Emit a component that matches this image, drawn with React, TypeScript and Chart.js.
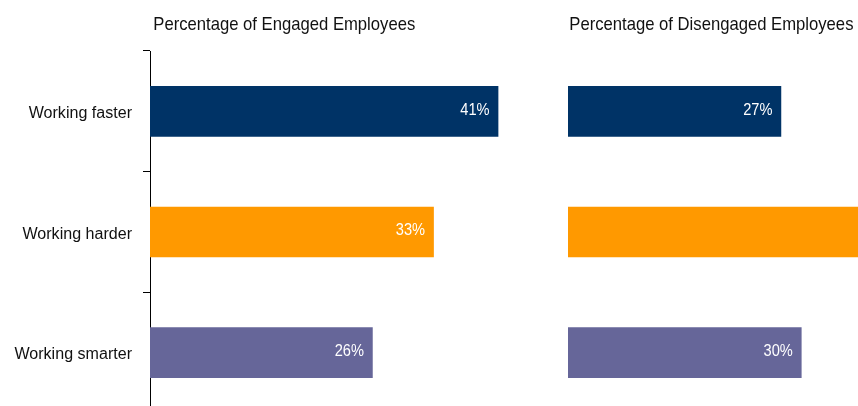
import React, { useEffect, useRef } from 'react';
import { Chart, registerables } from 'chart.js';

Chart.register(...registerables);

const categories = ['Working faster', 'Working harder', 'Working smarter'];
const engagedValues = [41, 33.4, 26.2];
const disengagedValues = [27.2, 42, 29.8];
const barColors = ['#003366', '#FF9900', '#666699'];
const panelTitles = ['Percentage of Engaged Employees', 'Percentage of Disengaged Employees'];
const engagedMax = 45;
const disengagedMax = 51.1;

const FONT = '"Liberation Sans", Arial, sans-serif';
const TEXT_COLOR = '#111111';

function drawText(
  ctx: CanvasRenderingContext2D,
  text: string,
  x: number,
  y: number,
  size: number,
  sx: number,
  align: CanvasTextAlign,
  color: string
) {
  ctx.save();
  ctx.font = `${size}px ${FONT}`;
  ctx.fillStyle = color;
  ctx.textAlign = align;
  ctx.textBaseline = 'alphabetic';
  ctx.translate(x, y);
  ctx.scale(sx, 1);
  ctx.fillText(text, 0, 0);
  ctx.restore();
}

const valueLabelPlugin = {
  id: 'valueLabels',
  afterDatasetsDraw(chart: any) {
    const { ctx } = chart;
    const meta = chart.getDatasetMeta(0);
    const ds = chart.data.datasets[0];
    meta.data.forEach((bar: any, i: number) => {
      const v = ds.data[i] as number;
      drawText(ctx, `${Math.round(v)}%`, bar.x - 8.5, bar.y + 3.2, 17, 0.86, 'right', '#ffffff');
    });
  },
};

const panelTitlePlugin = {
  id: 'panelTitle',
  afterDraw(chart: any, _args: any, opts: any) {
    const { ctx, chartArea } = chart;
    drawText(ctx, opts.text, chartArea.left + opts.dx, 30, 18.5, 0.9, 'left', TEXT_COLOR);
  },
};

const categoryLabelPlugin = {
  id: 'categoryLabels',
  afterDraw(chart: any, _args: any, opts: any) {
    if (!opts || !opts.show) return;
    const { ctx, chartArea } = chart;
    const yScale = chart.scales.y;
    (chart.data.labels as string[]).forEach((label: string, i: number) => {
      const y = yScale.getPixelForValue(i);
      drawText(ctx, label, chartArea.left - 18, y + 6.7, 17.3, 0.93, 'right', TEXT_COLOR);
    });
  },
};

function makeConfig(values: number[], max: number, showAxis: boolean, title: string, titleDx: number): any {
  const yScale: any = showAxis
    ? {
        display: true,
        grid: { offset: true, drawOnChartArea: false, drawTicks: true, tickLength: 7, color: '#000000', lineWidth: 1 },
        border: { display: true, color: '#000000', width: 1 },
        ticks: { display: false },
        afterFit: (s: any) => {
          s.width = 150;
        },
      }
    : { display: false };
  return {
    type: 'bar',
    data: {
      labels: categories,
      datasets: [
        {
          data: values,
          backgroundColor: barColors,
          borderWidth: 0,
          barThickness: 50,
        },
      ],
    },
    options: {
      indexAxis: 'y',
      responsive: false,
      animation: false,
      layout: { padding: { top: 51, bottom: 7, left: 0, right: 0 } },
      plugins: {
        legend: { display: false },
        tooltip: { enabled: false },
        title: { display: false },
        panelTitle: { text: title, dx: titleDx },
        categoryLabels: { show: showAxis },
      },
      scales: {
        x: { display: false, min: 0, max },
        y: yScale,
      },
    },
    plugins: [valueLabelPlugin, panelTitlePlugin, categoryLabelPlugin],
  };
}

export default function App() {
  const leftRef = useRef<HTMLCanvasElement>(null);
  const rightRef = useRef<HTMLCanvasElement>(null);

  useEffect(() => {
    const c1 = new Chart(leftRef.current!, makeConfig(engagedValues, engagedMax, true, panelTitles[0], 3.3));
    const c2 = new Chart(rightRef.current!, makeConfig(disengagedValues, disengagedMax, false, panelTitles[1], 1.3));
    return () => {
      c1.destroy();
      c2.destroy();
    };
  }, []);

  return (
    <div
      style={{
        position: 'fixed',
        left: 0,
        top: 0,
        width: 858,
        height: 406,
        overflow: 'hidden',
        background: '#ffffff',
      }}
    >
      <canvas ref={leftRef} width={532} height={420} style={{ position: 'absolute', left: 0, top: 0, width: 532, height: 420 }} />
      <canvas ref={rightRef} width={400} height={420} style={{ position: 'absolute', left: 568, top: 0, width: 400, height: 420 }} />
    </div>
  );
}
